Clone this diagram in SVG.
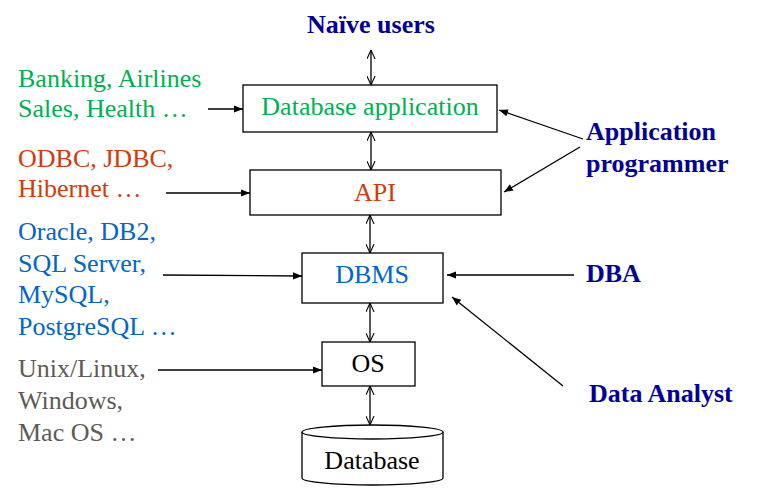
<svg xmlns="http://www.w3.org/2000/svg" width="782" height="493" viewBox="0 0 782 493">
<style>
text{font-family:"Liberation Serif","Times New Roman",serif;font-size:26px}
.b{font-weight:bold;fill:#000099}
.g{fill:#00B050}.r{fill:#D43A0A}.bl{fill:#0066CC}.gr{fill:#5F5A55}.k{fill:#000}
.box{fill:#fff;stroke:#000;stroke-width:1.3}
.c line{stroke:#000;stroke-width:1.3}
.f{marker-end:url(#tri)}
.d{marker-start:url(#v);marker-end:url(#v)}
</style>
<defs>
<marker id="tri" viewBox="0 0 10 10" refX="10" refY="5" markerWidth="9" markerHeight="9" markerUnits="userSpaceOnUse" orient="auto"><path d="M0,1 L10,5 L0,9 Z" fill="#000"/></marker>
<marker id="v" viewBox="0 0 10 10" refX="10" refY="5" markerWidth="9" markerHeight="9" markerUnits="userSpaceOnUse" orient="auto-start-reverse"><path d="M0,0.5 L10,5 L0,9.5" fill="none" stroke="#000" stroke-width="1.2"/></marker>
</defs>
<rect width="782" height="493" fill="#fff"/>
<g id="naive"><text class="b" x="371" y="33" text-anchor="middle">Naïve users</text></g>
<g id="dbapp"><rect class="box" x="243" y="85" width="254" height="47"/><text class="g" x="370" y="115" text-anchor="middle">Database application</text></g>
<g id="api"><rect class="box" x="250" y="170" width="251" height="45"/><text class="r" x="375" y="201" text-anchor="middle">API</text></g>
<g id="dbms"><rect class="box" x="302" y="253" width="141" height="50"/><text class="bl" x="372" y="283" text-anchor="middle">DBMS</text></g>
<g id="os"><rect class="box" x="322" y="342" width="93" height="44"/><text class="k" x="368" y="372" text-anchor="middle">OS</text></g>
<g id="database">
<path class="box" d="M302,432 L302,478 A70.5,7 0 0 0 443,478 L443,432"/>
<ellipse class="box" cx="372.5" cy="432" rx="70.5" ry="7"/>
<text class="k" x="372" y="469" text-anchor="middle">Database</text>
</g>
<g id="apps"><text class="g" x="18" y="87">Banking, Airlines</text><text class="g" x="18" y="117">Sales, Health …</text></g>
<g id="apis"><text class="r" x="18" y="167">ODBC, JDBC,</text><text class="r" x="18" y="197">Hibernet …</text></g>
<g id="dbmss"><text class="bl" x="18" y="240">Oracle, DB2,</text><text class="bl" x="18" y="272">SQL Server,</text><text class="bl" x="18" y="303">MySQL,</text><text class="bl" x="18" y="335">PostgreSQL …</text></g>
<g id="oss"><text class="gr" x="18" y="377">Unix/Linux,</text><text class="gr" x="18" y="409">Windows,</text><text class="gr" x="18" y="441">Mac OS …</text></g>
<g id="appprog"><text class="b" x="586" y="140">Application</text><text class="b" x="586" y="172">programmer</text></g>
<g id="dba"><text class="b" x="586" y="282">DBA</text></g>
<g id="analyst"><text class="b" x="589" y="402">Data Analyst</text></g>
<g class="c" id="connectors">
<line class="d" x1="371" y1="50" x2="371" y2="85"/>
<line class="d" x1="371" y1="132" x2="371" y2="170"/>
<line class="d" x1="370" y1="215" x2="370" y2="253"/>
<line class="d" x1="370" y1="303" x2="370" y2="342"/>
<line class="d" x1="370" y1="386" x2="370" y2="425"/>
<line class="f" x1="208" y1="109" x2="243" y2="109"/>
<line class="f" x1="166" y1="193" x2="250" y2="193"/>
<line class="f" x1="163" y1="275" x2="302" y2="276"/>
<line class="f" x1="158" y1="370" x2="322" y2="370"/>
<line class="f" x1="574" y1="275" x2="447" y2="275"/>
<line class="f" x1="563" y1="386" x2="452" y2="297"/>
<line class="f" x1="583" y1="139" x2="499" y2="110"/>
<line class="f" x1="580" y1="147" x2="504" y2="192"/>
</g>
</svg>
